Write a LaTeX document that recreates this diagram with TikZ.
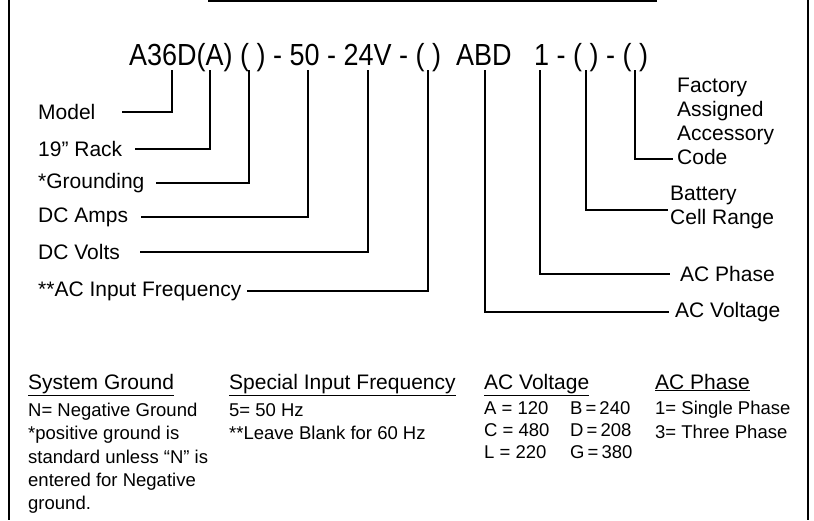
\documentclass[tikz,border=0pt]{standalone}
\usepackage{fontspec}
\setmainfont{Liberation Sans}
\newfontfamily\partfont[FakeStretch=0.885]{Liberation Sans}
\usetikzlibrary{positioning}

\begin{document}
\begin{tikzpicture}[x=1pt, y=-1pt,
        frame/.style={line width=2.4pt, draw=black},
        lead/.style={line width=2pt, draw=black},
        code/.style={inner sep=0pt, anchor=base west, font=\partfont\fontsize{30.5}{33}\selectfont},
        lbl/.style={inner sep=0pt, anchor=west, align=left, font=\fontsize{21}{24}\selectfont},
        head/.style={inner sep=0pt, anchor=base west, font=\fontsize{21}{24}\selectfont},
        body/.style={inner sep=0pt, align=left, font=\fontsize{18.5}{23.3}\selectfont}
    ]
        \useasboundingbox (0,0) rectangle (814,520);

        % outline of the panel
        \draw[frame] (9,0) -- (9,520);
        \draw[frame] (808,0) -- (808,520);
        \draw[line width=2.6pt] (208,1) -- (657,1);

        % part number
        \node[code] (code) at (129,65)
            {A36D(A) ( ) - 50 - 24V - ( )\ \ ABD\ \ \ 1 - ( ) - ( )};

        % tops of the leader lines
        \coordinate (vModel) at (172,70);
        \coordinate (vRack)  at (210,70);
        \coordinate (vGnd)   at (249,70);
        \coordinate (vAmps)  at (308,70);
        \coordinate (vVolts) at (368,70);
        \coordinate (vFreq)  at (428,70);
        \coordinate (vACV)   at (485,70);
        \coordinate (vPhase) at (540,70);
        \coordinate (vBatt)  at (586,70);
        \coordinate (vCode)  at (635,70);

        % labels on the left
        \node[lbl] (lModel) at (38,112) {Model};
        \node[lbl] (lRack)  at (38,149) {19” Rack};
        \node[lbl] (lGnd)   at (38,183) {*Grounding};
        \node[lbl] (lAmps)  at (38,217) {DC Amps};
        \node[lbl] (lVolts) at (38,252) {DC Volts};
        \node[lbl] (lFreq)  at (38,291) {**AC Input Frequency};

        % labels on the right
        \node[lbl, anchor=north west] (lAcc)  at (677,77.5) {Factory\\Assigned\\Accessory\\Code};
        \node[lbl, anchor=north west] (lBatt) at (670,185.5) {Battery\\Cell Range};
        \node[lbl] (lPhase) at (680,274) {AC Phase};
        \node[lbl] (lACV)   at (675,312) {AC Voltage};

        \draw[lead] (vModel) |- ([xshift=26pt]lModel.east);
        \draw[lead] (vRack)  |- ([xshift=13pt]lRack.east);
        \draw[lead] (vGnd)   |- ([xshift=11pt]lGnd.east);
        \draw[lead] (vAmps)  |- ([xshift=13pt]lAmps.east);
        \draw[lead] (vVolts) |- ([xshift=20pt]lVolts.east);
        \draw[lead] (vFreq)  |- ([xshift=5pt]lFreq.east);
        \draw[lead] (vACV)   |- ([xshift=-6pt]lACV.west);
        \draw[lead] (vPhase) |- ([xshift=-10pt]lPhase.west);
        \draw[lead] (vBatt)  |- ([xshift=-2pt,yshift=-24.5pt]lBatt.north west);
        \draw[lead] (vCode)  |- ([xshift=-4pt,yshift=-81.5pt]lAcc.north west);

        % legend
        \node[head] (hGnd)   at (28,389)  {\underline{System Ground}};
        \node[head] (hFreq)  at (229,389) {\underline{Special Input Frequency}};
        \node[head] (hACV)   at (484,389) {\underline{AC Voltage}};
        \node[head] (hPhase) at (655,389) {\underline{AC Phase}};

        \node[body, below=14pt of hGnd.base west, anchor=north west] (bGnd)
            {N= Negative Ground\\*positive ground is\\standard unless “N” is\\entered for Negative\\ground.};
        \node[body, below=14pt of hFreq.base west, anchor=north west] (bFreq)
            {5= 50 Hz\\**Leave Blank for 60 Hz};
        \node[body, below=12pt of hACV.base west, anchor=north west,
              font=\fontsize{18.5}{22}\selectfont] (bACV)
            {\makebox[86pt][l]{A = 120}B\,=\,240\\
             \makebox[86pt][l]{C = 480}D\,=\,208\\
             \makebox[86pt][l]{L = 220}G\,=\,380};
        \node[body, below=12pt of hPhase.base west, anchor=north west,
              font=\fontsize{18.5}{24}\selectfont] (bPhase)
            {1= Single Phase\\3= Three Phase};
    \end{tikzpicture}
\end{document}
